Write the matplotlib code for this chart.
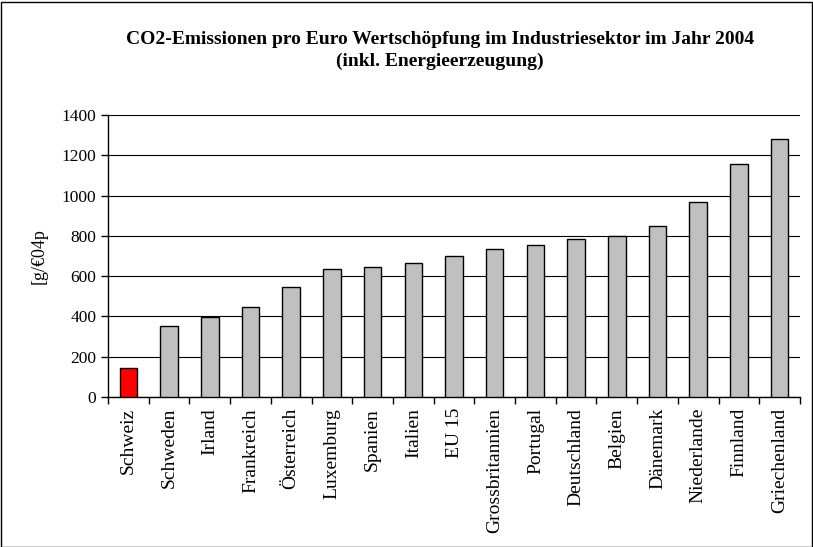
import matplotlib.pyplot as plt
from matplotlib.patches import Rectangle
import numpy as np

plt.rcParams['font.family'] = ['Liberation Serif', 'DejaVu Serif']

# Data
laender = ["Schweiz", "Schweden", "Irland", "Frankreich", "Österreich", "Luxemburg",
           "Spanien", "Italien", "EU 15", "Grossbritannien", "Portugal", "Deutschland",
           "Belgien", "Dänemark", "Niederlande", "Finnland", "Griechenland"]
werte = [144, 354, 397, 445, 545, 636, 644, 664, 702, 736, 756, 786, 801, 849, 970, 1155, 1281]
farben = ["#ff0000"] + ["#c0c0c0"] * (len(laender) - 1)

fig = plt.figure(figsize=(8.13, 5.47), dpi=100)
ax = fig.add_axes([108 / 813, 1 - 397 / 547, (800 - 108) / 813, (397 - 115) / 547])

x = np.arange(len(laender))
ax.bar(x, werte, width=0.43, color=farben, edgecolor="black", linewidth=1.0, zorder=3)

ax.set_xlim(-0.5, len(laender) - 0.5)
ax.set_ylim(0, 1400)
ax.set_yticks(range(0, 1401, 200))
ax.yaxis.grid(True, color="black", linewidth=0.8, zorder=0)
ax.set_axisbelow(True)

# Excel-style ticks between categories
ax.set_xticks(np.arange(-0.5, len(laender), 1.0))
ax.set_xticklabels([])
ax.set_xticks(x, minor=True)
ax.set_xticklabels(laender, minor=True, rotation=90, fontsize=14)
ax.tick_params(axis="x", which="minor", length=0, pad=8)
ax.tick_params(axis="x", which="major", length=5, direction="out", width=1)
ax.tick_params(axis="y", length=5, direction="out", width=1, labelsize=12.5)

for s in ["top", "right"]:
    ax.spines[s].set_visible(False)
ax.spines["left"].set_linewidth(1)
ax.spines["bottom"].set_linewidth(1)

ax.set_ylabel("[g/€04p", fontsize=13, labelpad=10)

fig.text(0.541, 1 - 40 / 547, "CO2-Emissionen pro Euro Wertschöpfung im Industriesektor im Jahr 2004",
         ha="center", va="center", fontsize=14, fontweight="bold")
fig.text(0.541, 1 - 61 / 547, "(inkl. Energieerzeugung)",
         ha="center", va="center", fontsize=14, fontweight="bold")

fig.patches.append(Rectangle((0.5 / 813, 0.5 / 547), 811 / 813, 545 / 547, transform=fig.transFigure,
                             fill=False, edgecolor="black", linewidth=1))

fig.savefig("out.png", dpi=100)
